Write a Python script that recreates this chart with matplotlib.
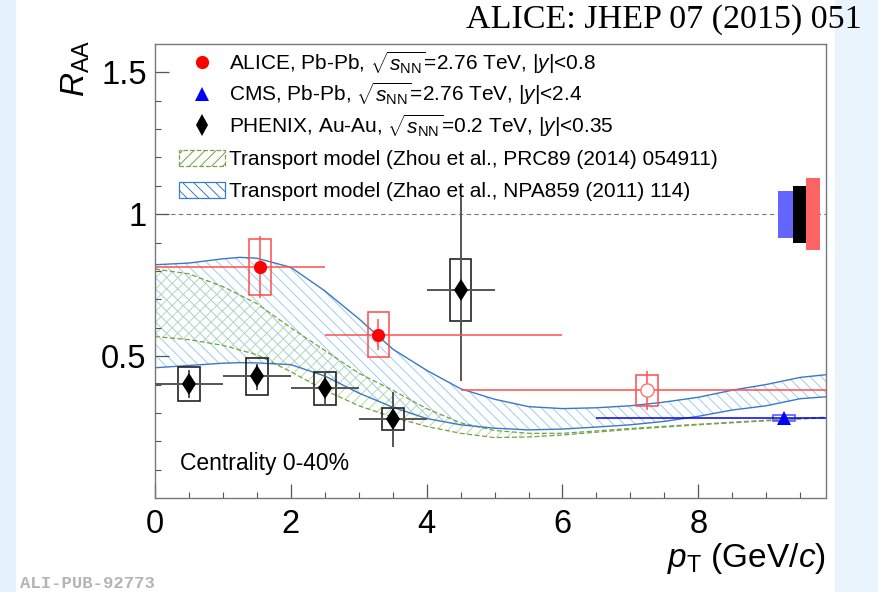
import numpy as np
import matplotlib.pyplot as plt
from matplotlib.lines import Line2D
from matplotlib.patches import Patch, Rectangle

plt.rcParams['font.family'] = ['Liberation Sans', 'DejaVu Sans']
plt.rcParams['mathtext.fontset'] = 'custom'
plt.rcParams['mathtext.rm'] = 'Liberation Sans'
plt.rcParams['mathtext.it'] = 'Liberation Sans:italic'
plt.rcParams['hatch.linewidth'] = 0.7

# ALICE Pb-Pb 2.76 TeV
alice_x = [1.55, 3.29, 7.24]
alice_y = [0.814, 0.576, 0.379]
alice_xlo = [0.0, 2.5, 4.5]
alice_xhi = [2.5, 6.0, 10.0]
alice_stat = [0.11, 0.055, 0.068]
alice_sys = [0.098, 0.078, 0.055]

# CMS Pb-Pb 2.76 TeV
cms_x = [9.26]
cms_y = [0.281]
cms_xlo = [6.5]
cms_xhi = [10.0]
cms_sys = [0.011]

# PHENIX Au-Au 0.2 TeV
phx_x = [0.5, 1.5, 2.5, 3.5, 4.5]
phx_y = [0.401, 0.429, 0.387, 0.278, 0.733]
phx_xlo = [0, 1, 2, 3, 4]
phx_xhi = [1, 2, 3, 4, 5]
phx_stat_up = [0.049, 0.045, 0.06, 0.096, 0.327]
phx_stat_dn = [0.05, 0.049, 0.061, 0.099, 0.32]
phx_sys = [0.06, 0.065, 0.058, 0.04, 0.109]

# global uncertainties (CMS, PHENIX, ALICE)
glob_unc = [0.082, 0.1, 0.126]

# transport model bands
zhou_x = [0, 0.5, 1.0, 1.5, 2.0, 2.5, 3.0, 3.5, 4.0, 4.5, 5.0, 5.5, 6, 7, 8, 9, 9.9]
zhou_hi = [0.807, 0.79, 0.745, 0.685, 0.60, 0.52, 0.44, 0.38, 0.315, 0.265, 0.238,
           0.228, 0.228, 0.245, 0.26, 0.274, 0.285]
zhou_lo = [0.569, 0.558, 0.538, 0.505, 0.445, 0.38, 0.325, 0.285, 0.252, 0.228, 0.213,
           0.215, 0.222, 0.242, 0.258, 0.272, 0.283]

zhao_x = [0, 0.5, 1.0, 1.25, 1.5, 2.0, 2.5, 3.0, 3.5, 4.0, 4.5, 5.0, 5.5, 6.0, 6.5,
          7.0, 7.5, 8.0, 8.5, 9.0, 9.5, 9.9]
zhao_hi = [0.822, 0.828, 0.843, 0.848, 0.845, 0.813, 0.73, 0.632, 0.525, 0.45, 0.385,
           0.348, 0.322, 0.315, 0.318, 0.325, 0.338, 0.355, 0.38, 0.40, 0.425, 0.435]
zhao_lo = [0.459, 0.467, 0.475, 0.477, 0.476, 0.47, 0.43, 0.37, 0.32, 0.28, 0.258,
           0.246, 0.24, 0.243, 0.25, 0.258, 0.27, 0.288, 0.31, 0.325, 0.35, 0.357]

W, H = 879, 592
fig = plt.figure(figsize=(W / 100, H / 100), dpi=100)
fig.patches.append(Rectangle((0, 0), 15 / W, 1, transform=fig.transFigure,
                             color='#e6f3fc', zorder=-10))
fig.patches.append(Rectangle((835 / W, 0), 1, 1, transform=fig.transFigure,
                             color='#eaf4fd', zorder=-10))
ax = fig.add_axes([155 / W, 94 / H, 671 / W, 454 / H])

green = '#78a048'
blue_edge = '#3a78c8'
green_hatch = '///'
blue_hatch = '\\\\\\'

# model bands
ax.fill_between(zhou_x, zhou_lo, zhou_hi, facecolor='none', edgecolor='#b8dc9c',
                hatch=green_hatch, linewidth=0, zorder=1)
ax.plot(zhou_x, zhou_hi, color=green, ls=(0, (4, 2)), lw=0.9, zorder=2)
ax.plot(zhou_x, zhou_lo, color=green, ls=(0, (4, 2)), lw=0.9, zorder=2)
ax.fill_between(zhao_x, zhao_lo, zhao_hi, facecolor='none', edgecolor='#9ccdf2',
                hatch=blue_hatch, linewidth=0, zorder=1)
ax.plot(zhao_x, zhao_hi, color=blue_edge, lw=1.0, zorder=2)
ax.plot(zhao_x, zhao_lo, color=blue_edge, lw=1.0, zorder=2)

ax.axhline(1.0, color='#777777', ls=(0, (4, 3)), lw=0.8, zorder=1)

bw = 0.32

# PHENIX
phx_x = np.array(phx_x)
phx_y = np.array(phx_y)
phx_sys = np.array(phx_sys)
ax.bar(phx_x, 2 * phx_sys, bottom=phx_y - phx_sys, width=bw, fill=False,
       edgecolor='#222222', linewidth=1.2, zorder=3)
ax.errorbar(phx_x, phx_y, yerr=[phx_stat_dn, phx_stat_up],
            xerr=[phx_x - np.array(phx_xlo), np.array(phx_xhi) - phx_x],
            fmt='none', ecolor='#555555', elinewidth=1.4, capsize=0, zorder=4)
ax.plot(phx_x, phx_y, 'd', color='black', ms=11.5, mew=0, zorder=5)

# ALICE
alice_x = np.array(alice_x)
alice_y = np.array(alice_y)
alice_sys = np.array(alice_sys)
ax.bar(alice_x, 2 * alice_sys, bottom=alice_y - alice_sys, width=bw, fill=False,
       edgecolor='#ff4a4a', linewidth=1.1, zorder=3)
ax.errorbar(alice_x, alice_y, yerr=alice_stat,
            xerr=[alice_x - np.array(alice_xlo), np.array(alice_xhi) - alice_x],
            fmt='none', ecolor='#ff5050', elinewidth=1.1, capsize=0, zorder=4)
ax.plot(alice_x[:2], alice_y[:2], 'o', color='#ff0000', ms=9.5, mew=0, zorder=5)
ax.plot(alice_x[2:], alice_y[2:], 'o', mfc='white', mec='#ff7070', ms=9.5, mew=1.0,
        zorder=5)

# CMS
cms_x = np.array(cms_x)
cms_y = np.array(cms_y)
cms_sys = np.array(cms_sys)
ax.bar(cms_x, 2 * cms_sys, bottom=cms_y - cms_sys, width=bw, fill=False,
       edgecolor='#5050ff', linewidth=1.1, zorder=3)
ax.errorbar(cms_x, cms_y, xerr=[cms_x - np.array(cms_xlo), np.array(cms_xhi) - cms_x],
            fmt='none', ecolor='#0000ee', elinewidth=1.1, capsize=0, zorder=4)
ax.plot(cms_x, cms_y, '^', color='#0000ff', ms=9.5, mew=0, zorder=5)

# global uncertainty boxes at R_AA = 1
glob_x = [9.285, 9.485, 9.685]
glob_w = [0.21, 0.19, 0.21]
glob_c = ['#6464ff', '#000000', '#ff6464']
for gx, gw, gu, gc in zip(glob_x, glob_w, glob_unc, glob_c):
    ax.bar(gx, 2 * gu, bottom=1 - gu, width=gw, color=gc, linewidth=0, zorder=6)

ax.set_xlim(0, 9.88)
ax.set_ylim(0, 1.6)
ax.set_xticks([0, 2, 4, 6, 8])
ax.set_xticks(np.arange(0, 9.9, 0.5), minor=True)
ax.set_yticks([0.5, 1, 1.5])
ax.set_yticklabels(['0.5', '1', '1.5'])
ax.set_yticks(np.arange(0.1, 1.6, 0.1), minor=True)
ax.tick_params(which='both', direction='in', color='#555555', top=False, right=False)
ax.tick_params(which='major', length=10, width=0.9, labelsize=23.5)
ax.tick_params(which='minor', length=4.5, width=0.8)
ax.tick_params(axis='x', pad=8)
ax.tick_params(axis='y', pad=6)
for s in ax.spines.values():
    s.set_color('#777777')
    s.set_linewidth(1.0)

# legend: data markers
mk_handles = [
    Line2D([], [], ls='none', marker='o', color='#ff0000', ms=9.5, mew=0),
    Line2D([], [], ls='none', marker='^', color='#0000ff', ms=9.5, mew=0),
    Line2D([], [], ls='none', marker='d', color='black', ms=11, mew=0),
]
mk_labels = [
    r'ALICE, Pb-Pb, $\sqrt{s_{\rm NN}}$=2.76 TeV, $|y|$<0.8',
    r'CMS, Pb-Pb, $\sqrt{s_{\rm NN}}$=2.76 TeV, $|y|$<2.4',
    r'PHENIX, Au-Au, $\sqrt{s_{\rm NN}}$=0.2 TeV, $|y|$<0.35',
]
leg1 = ax.legend(mk_handles, mk_labels, loc='upper left',
                 bbox_to_anchor=(179 / W, 1 - 49 / H), bbox_transform=fig.transFigure,
                 frameon=False, fontsize=15, borderpad=0, borderaxespad=0,
                 handlelength=2.2, handleheight=0.8, handletextpad=0.2,
                 labelspacing=0.22)
ax.add_artist(leg1)

# legend: model bands
md_handles = [
    Patch(facecolor='none', edgecolor=green, hatch=green_hatch, ls='--', lw=0.9),
    Patch(facecolor='none', edgecolor=blue_edge, hatch=blue_hatch, lw=0.9),
]
md_labels = [
    'Transport model (Zhou et al., PRC89 (2014) 054911)',
    'Transport model (Zhao et al., NPA859 (2011) 114)',
]
ax.legend(md_handles, md_labels, loc='upper left',
          bbox_to_anchor=(179 / W, 1 - 150 / H), bbox_transform=fig.transFigure,
          frameon=False, fontsize=15, borderpad=0, borderaxespad=0,
          handlelength=2.2, handleheight=0.8, handletextpad=0.2, labelspacing=0.6)

ax.text(0.037, 0.077, 'Centrality 0-40%', transform=ax.transAxes, fontsize=16.5,
        ha='left', va='center')

fig.text(76 / W, 1 - 68 / H, r'$R_{\rm AA}$', rotation=90, fontsize=24,
         ha='center', va='center')
fig.text(826 / W, 1 - 558 / H, r'$p_{\rm T}$ (GeV/$c$)', fontsize=24,
         ha='right', va='center')
fig.text(862 / W, 1 - 20 / H, 'ALICE: JHEP 07 (2015) 051', fontsize=24.5,
         family='Liberation Serif', ha='right', va='center')
fig.text(20 / W, 1 - 583 / H, 'ALI-PUB-92773', fontsize=12.4, family='Liberation Mono',
         weight='bold', color='#b4b4b4', ha='left', va='center')

fig.savefig('out.png', dpi=100)
